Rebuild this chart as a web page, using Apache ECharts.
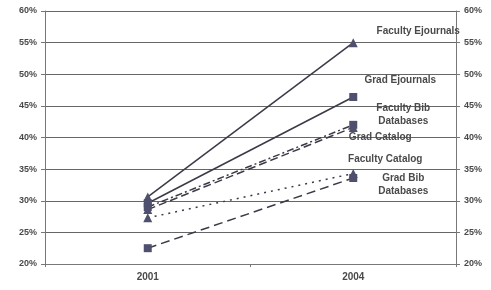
<!DOCTYPE html>
<html>
<head>
<meta charset="utf-8">
<script src="https://cdn.jsdelivr.net/npm/echarts@6/dist/echarts.min.js"></script>
<style>
  html, body { margin: 0; padding: 0; background: #fff; }
  #chart { width: 491px; height: 290px; }
</style>
</head>
<body>
<div id="chart"></div>
<script>
const years = ['2001', '2004'];
const seriesNames = ['Faculty Ejournals', 'Grad Ejournals', 'Faculty Bib\nDatabases', 'Grad Catalog', 'Faculty Catalog', 'Grad Bib\nDatabases'];
const facultyEjournals = [30.6, 55];
const gradEjournals = [29.6, 46.4];
const facultyBibDatabases = [29.0, 42.0];
const gradCatalog = [28.6, 41.6];
const facultyCatalog = [27.3, 34.3];
const gradBibDatabases = [22.5, 33.6];

const lineColor = '#3b3b48';
const markColor = '#4f4f6e';
const textColor = '#4a4a4a';

// look of each series: marker, dash, label offset at 2004
const looks = [
  { data: facultyEjournals, symbol: 'triangle', dash: 'solid', off: [65, -11] },
  { data: gradEjournals, symbol: 'rect', dash: 'solid', off: [47, -17] },
  { data: facultyBibDatabases, symbol: 'rect', dash: [7, 3, 2, 3], off: [50, -10] },
  { data: gradCatalog, symbol: 'triangle', dash: [8, 4], off: [27, 10] },
  { data: facultyCatalog, symbol: 'triangle', dash: [2, 5], off: [32, -14] },
  { data: gradBibDatabases, symbol: 'rect', dash: [9, 5], off: [50, 7] }
];

const chart = echarts.init(document.getElementById('chart'));

const yAxisBase = {
  type: 'value',
  min: 20,
  max: 60,
  interval: 5,
  axisLine: { show: true, lineStyle: { color: '#777', width: 1 } },
  axisTick: { show: true, length: 4, lineStyle: { color: '#777' } },
  axisLabel: {
    formatter: '{value}%',
    color: textColor,
    fontSize: 9,
    fontWeight: 'bold',
    fontFamily: 'Liberation Sans, Arial'
  }
};

chart.setOption({
  animation: false,
  grid: { left: 45, right: 35, top: 11, bottom: 26 },
  xAxis: {
    type: 'category',
    data: years,
    boundaryGap: true,
    axisLine: { lineStyle: { color: '#777' } },
    axisTick: { show: true, length: 3, lineStyle: { color: '#777' } },
    axisLabel: {
      color: textColor,
      fontSize: 10,
      fontWeight: 'bold',
      fontFamily: 'Liberation Sans, Arial',
      margin: 8
    }
  },
  yAxis: [
    Object.assign({}, yAxisBase, {
      position: 'left',
      splitLine: { show: true, lineStyle: { color: '#666', width: 1 } }
    }),
    Object.assign({}, yAxisBase, {
      position: 'right',
      splitLine: { show: false }
    })
  ],
  series: looks.map((s, i) => ({
    name: seriesNames[i],
    type: 'line',
    symbol: s.symbol,
    symbolSize: s.symbol === 'rect' ? 8 : 9,
    lineStyle: { color: lineColor, width: 1.5, type: s.dash },
    itemStyle: { color: markColor },
    data: s.data.map((v, j) => ({
      value: v,
      label: {
        show: j === 1,
        formatter: seriesNames[i],
        position: 'inside',
        align: 'center',
        verticalAlign: 'middle',
        offset: s.off,
        color: textColor,
        fontSize: 10,
        fontWeight: 'bold',
        lineHeight: 13,
        fontFamily: 'Liberation Sans, Arial'
      }
    }))
  }))
});
</script>
</body>
</html>
